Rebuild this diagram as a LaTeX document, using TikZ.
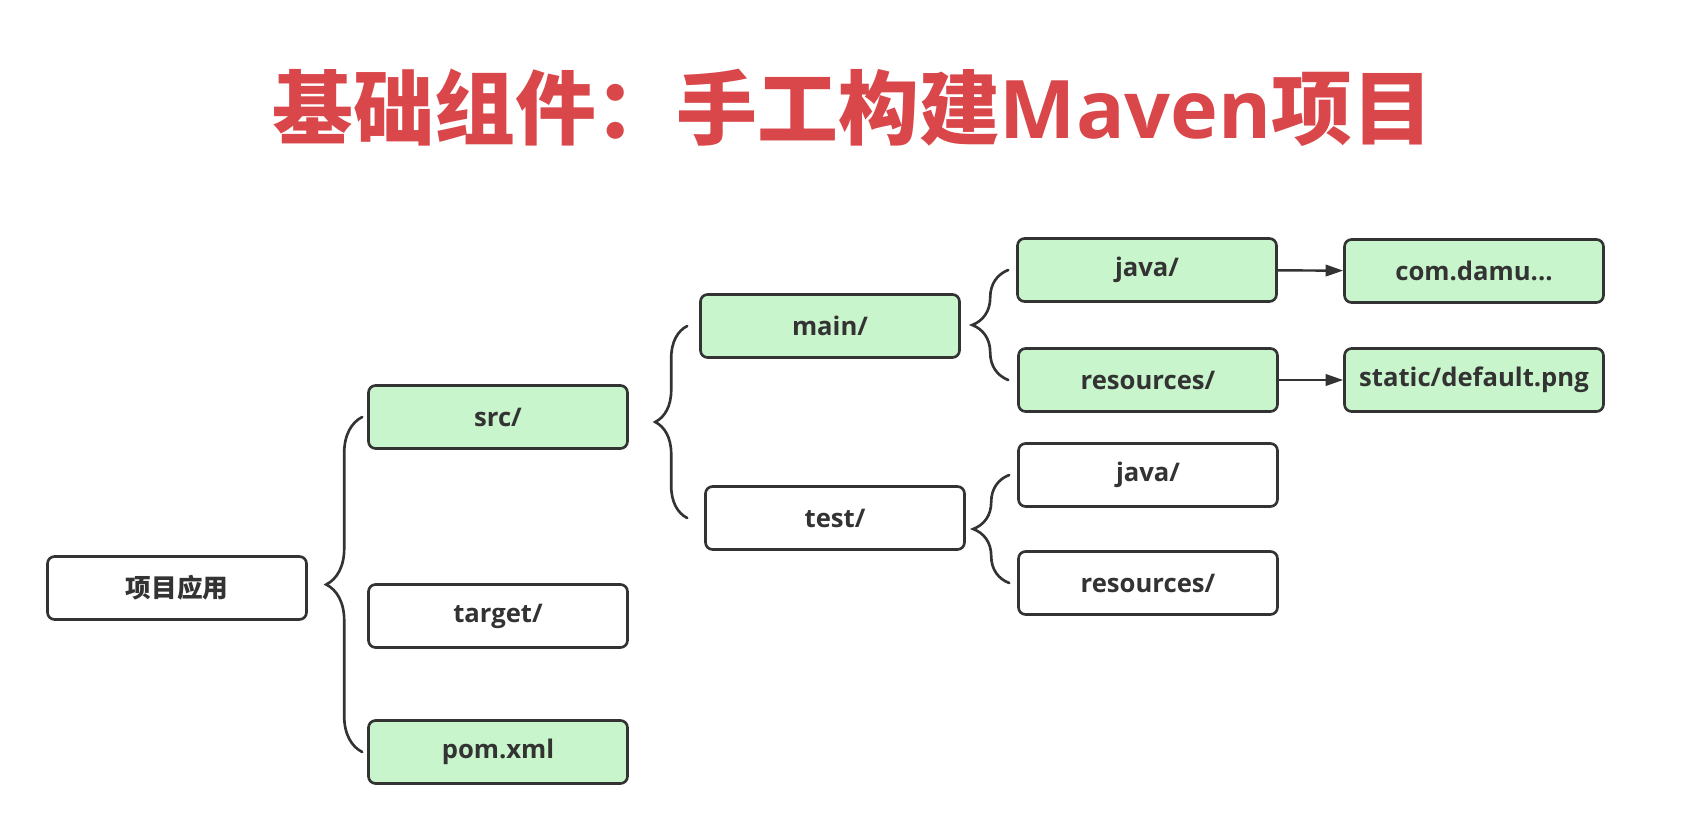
\documentclass[tikz,border=0pt]{standalone}
\usepackage{fontspec}
\setmainfont{Open Sans}
\newfontfamily\cjk{Noto Sans CJK SC}
\usetikzlibrary{decorations.pathreplacing, arrows.meta}
\definecolor{titlered}{HTML}{D9474B}
\definecolor{dirgreen}{HTML}{C9F5CC}
\definecolor{linegray}{HTML}{333333}
\definecolor{textgray}{HTML}{333333}
\begin{document}
\begin{tikzpicture}[x=0.02cm, y=-0.02cm,
    curly/.style={draw=linegray, line width=1.5pt, line cap=round, decorate, decoration={brace, amplitude=#1}},
    arr/.style={draw=linegray, line width=1.4pt, -{Triangle[length=10pt, width=6.5pt]}}]
    \useasboundingbox (0,0) rectangle (1698,815);
    \node[text=titlered, font=\cjk\bfseries\fontsize{46}{50}\selectfont] (title) at (853,108) {基础组件：手工构建{\rmfamily Maven}项目};
    \begin{scope}
        \tikzstyle{every node}=[fill=white, draw=linegray, line width=1.5pt, rounded corners=4pt, minimum width=5.18cm, minimum height=1.26cm, text=textgray, font=\bfseries\fontsize{14.6}{16}\selectfont]
        \node (root) at (177,588) {\cjk 项目应用};
        \node[fill=dirgreen] (src) at (498,417) {src/};
        \node (target) at (498,616) {target/};
        \node[fill=dirgreen] (pom) at (498,752) {pom.xml};
        \node[fill=dirgreen] (main) at (830,326) {main/};
        \node (test) at (835,518) {test/};
        \node[fill=dirgreen] (mainjava) at (1147,270) {java/};
        \node[fill=dirgreen] (mainres) at (1148,380) {resources/};
        \node (testjava) at (1148,475) {java/};
        \node (testres) at (1148,583) {resources/};
        \node[fill=dirgreen] (com) at (1474,271) {com.damu...};
        \node[fill=dirgreen] (static) at (1474,380) {static/default.png};
    \end{scope}
    \begin{scope}
        \coordinate (b1) at ([xshift=-0.1cm]src.west);
        \coordinate (b2) at ([xshift=-0.24cm]main.west);
        \coordinate (b3) at ([xshift=-0.16cm]mainjava.west);
        \coordinate (b4) at ([xshift=-0.16cm]testjava.west);
        \draw[curly=0.72cm] (b1 |- pom.west) -- (b1);
        \draw[curly=0.64cm] (b2 |- test.west) -- (b2);
        \draw[curly=0.72cm] (b3 |- mainres.west) -- (b3);
        \draw[curly=0.72cm] (b4 |- testres.west) -- (b4);
        \draw[arr] (mainjava) -- (com);
        \draw[arr] (mainres) -- (static);
    \end{scope}
\end{tikzpicture}
\end{document}
